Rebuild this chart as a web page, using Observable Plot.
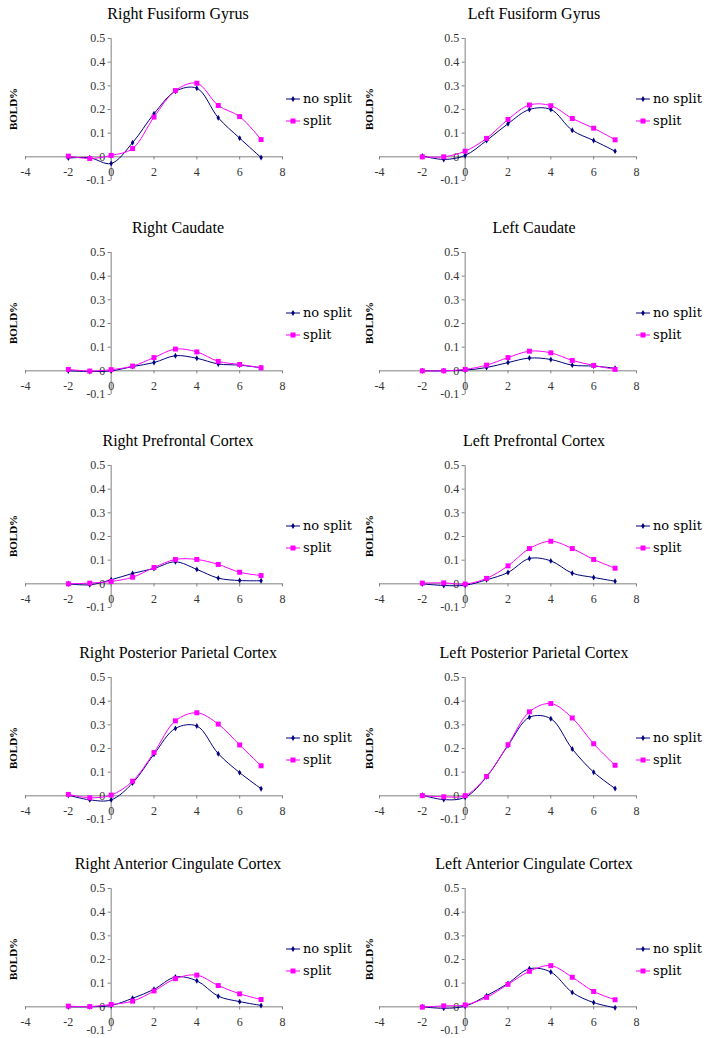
<!DOCTYPE html>
<html>
<head>
<meta charset="utf-8">
<script src="https://cdn.jsdelivr.net/npm/d3@7"></script>
<script src="https://cdn.jsdelivr.net/npm/@observablehq/plot@0.6"></script>
<style>
  body { margin: 0; background: #fff; }
  #root { position: relative; width: 713px; height: 1038px; overflow: hidden; background: #fff; }
  .panel { position: absolute; width: 356px; height: 213px; }
  .panel svg.plot { position: absolute; left: 0; top: 26px; overflow: visible; }
  .title { position: absolute; left: 0; top: 4px; width: 356px; text-align: center;
           font: 16px "Liberation Serif", serif; line-height: 20px; color: #000; white-space: nowrap; }
  .ylab { position: absolute; left: 13px; top: 109px; transform: translate(-50%, -50%) rotate(-90deg);
          font: bold 11px "Liberation Serif", serif; color: #000; white-space: nowrap; }
  .leg { position: absolute; height: 18px; line-height: 18px; white-space: nowrap;
         font: 13px "DejaVu Serif", serif; color: #000; }
  .leg svg { vertical-align: middle; margin-right: 2px; position: relative; top: -1px; }
</style>
</head>
<body>
<div id="root"></div>
<script>
// ---- data ----
const times = [-2, -1, 0, 1, 2, 3, 4, 5, 6, 7];
const xTicks = [-4, -2, 0, 2, 4, 6, 8];
const yTicks = [-0.1, 0, 0.1, 0.2, 0.3, 0.4, 0.5];
const seriesNames = ["no split", "split"];
const regionTitles = [
  "Right Fusiform Gyrus", "Left Fusiform Gyrus",
  "Right Caudate", "Left Caudate",
  "Right Prefrontal Cortex", "Left Prefrontal Cortex",
  "Right Posterior Parietal Cortex", "Left Posterior Parietal Cortex",
  "Right Anterior Cingulate Cortex", "Left Anterior Cingulate Cortex"
];

const rightFusiformNoSplit = [-0.005, -0.004, -0.028, 0.06, 0.182, 0.277, 0.29, 0.165, 0.079, -0.003];
const rightFusiformSplit   = [0.003, -0.007, 0.006, 0.035, 0.168, 0.28, 0.311, 0.217, 0.17, 0.073];
const leftFusiformNoSplit  = [0.004, -0.011, 0.006, 0.069, 0.14, 0.2, 0.2, 0.112, 0.069, 0.024];
const leftFusiformSplit    = [0.0, 0.0, 0.024, 0.078, 0.158, 0.219, 0.216, 0.162, 0.121, 0.072];
const rightCaudateNoSplit  = [0.0, -0.003, 0.0, 0.018, 0.035, 0.064, 0.053, 0.029, 0.024, 0.013];
const rightCaudateSplit    = [0.006, -0.001, 0.005, 0.02, 0.056, 0.092, 0.08, 0.04, 0.027, 0.013];
const leftCaudateNoSplit   = [0.0, 0.0, 0.003, 0.014, 0.035, 0.054, 0.048, 0.024, 0.02, 0.011];
const leftCaudateSplit     = [0.0, 0.0, 0.006, 0.024, 0.056, 0.083, 0.076, 0.044, 0.023, 0.006];
const rightPrefrontalNoSplit = [0.0, -0.004, 0.017, 0.044, 0.065, 0.093, 0.061, 0.024, 0.014, 0.013];
const rightPrefrontalSplit   = [0.0, 0.003, 0.01, 0.028, 0.069, 0.103, 0.103, 0.082, 0.049, 0.035];
const leftPrefrontalNoSplit  = [0.0, -0.007, -0.006, 0.017, 0.048, 0.107, 0.097, 0.045, 0.027, 0.011];
const leftPrefrontalSplit    = [0.003, 0.004, -0.001, 0.023, 0.076, 0.149, 0.18, 0.149, 0.103, 0.066];
const rightParietalNoSplit   = [0.003, -0.017, -0.017, 0.054, 0.176, 0.285, 0.295, 0.178, 0.098, 0.03];
const rightParietalSplit     = [0.006, -0.008, 0.003, 0.062, 0.183, 0.317, 0.351, 0.303, 0.215, 0.127];
const leftParietalNoSplit    = [0.003, -0.016, -0.006, 0.08, 0.213, 0.332, 0.326, 0.198, 0.1, 0.031];
const leftParietalSplit      = [0.001, -0.004, 0.001, 0.082, 0.216, 0.355, 0.39, 0.329, 0.22, 0.129];
const rightCingulateNoSplit  = [0.0, 0.0, 0.006, 0.036, 0.074, 0.126, 0.11, 0.045, 0.022, 0.006];
const rightCingulateSplit    = [0.003, 0.001, 0.01, 0.024, 0.067, 0.119, 0.134, 0.09, 0.055, 0.031];
const leftCingulateNoSplit   = [0.0, -0.006, 0.003, 0.047, 0.099, 0.161, 0.147, 0.061, 0.018, -0.004];
const leftCingulateSplit     = [-0.001, 0.004, 0.008, 0.04, 0.095, 0.15, 0.174, 0.125, 0.065, 0.03];

const noSplitSeries = [rightFusiformNoSplit, leftFusiformNoSplit, rightCaudateNoSplit, leftCaudateNoSplit,
  rightPrefrontalNoSplit, leftPrefrontalNoSplit, rightParietalNoSplit, leftParietalNoSplit,
  rightCingulateNoSplit, leftCingulateNoSplit];
const splitSeries = [rightFusiformSplit, leftFusiformSplit, rightCaudateSplit, leftCaudateSplit,
  rightPrefrontalSplit, leftPrefrontalSplit, rightParietalSplit, leftParietalSplit,
  rightCingulateSplit, leftCingulateSplit];

// ---- layout / style ----
const rowTops = [0, 214, 427, 639, 850];
const colLefts = [0, 356];
const colMarginLeft = [25, 23];
const colMarginRight = [74, 76];
const legendLeft = [286, 280];
const navy = "#000080";
const magenta = "#ff00ff";
const axisColor = "#808080";
const serif = "'Liberation Serif', serif";

const root = document.getElementById("root");

function legendItem(name, color, isSquare) {
  const marker = isSquare
    ? `<rect x="4.5" y="2.5" width="5" height="5" fill="${color}"/>`
    : `<polygon points="7,2 8.8,5 7,8 5.2,5" fill="${color}"/>`;
  return `<svg width="15" height="10"><line x1="0" y1="5" x2="14" y2="5" stroke="${color}" stroke-width="1"/>${marker}</svg>${name}`;
}

regionTitles.forEach((title, i) => {
  const row = Math.floor(i / 2), col = i % 2;
  const panel = document.createElement("div");
  panel.className = "panel";
  panel.style.left = colLefts[col] + "px";
  panel.style.top = rowTops[row] + "px";

  const t = document.createElement("div");
  t.className = "title";
  t.textContent = title;
  panel.appendChild(t);

  const yl = document.createElement("div");
  yl.className = "ylab";
  yl.textContent = "BOLD%";
  panel.appendChild(yl);

  const rows = times.map((x, k) => ({x, noSplit: noSplitSeries[i][k], split: splitSeries[i][k]}));

  const chart = Plot.plot({
    width: 356,
    height: 170,
    marginTop: 12,
    marginBottom: 16,
    marginLeft: colMarginLeft[col],
    marginRight: colMarginRight[col],
    x: {domain: [-4, 8], axis: null},
    y: {domain: [-0.1, 0.5], axis: null},
    style: {background: "transparent", overflow: "visible"},
    marks: [
      Plot.ruleY([0], {x1: -4, x2: 8, stroke: axisColor, strokeWidth: 1}),
      Plot.ruleX([0], {y1: -0.1, y2: 0.5, stroke: axisColor, strokeWidth: 1}),
      Plot.ruleX(xTicks, {x: d => d, y1: 0, y2: -0.013, stroke: axisColor}),
      Plot.ruleY(yTicks, {y: d => d, x1: -0.14, x2: 0, stroke: axisColor}),
      Plot.text(xTicks, {x: d => d, y: 0, dy: 15, text: d => String(d), fontSize: 12,
        fontFamily: serif, fill: "#333"}),
      Plot.text(yTicks, {x: 0, y: d => d, dx: -6, textAnchor: "end", text: d => String(d),
        fontSize: 12, fontFamily: serif, fill: "#333"}),
      Plot.line(rows, {x: "x", y: "noSplit", stroke: navy, strokeWidth: 1, curve: "catmull-rom"}),
      Plot.line(rows, {x: "x", y: "split", stroke: magenta, strokeWidth: 1, curve: "catmull-rom"}),
      Plot.dot(rows, {x: "x", y: "noSplit", symbol: "diamond", r: 1.8, fill: navy, stroke: "none"}),
      Plot.dot(rows, {x: "x", y: "split", symbol: "square", r: 2.8, fill: magenta, stroke: "none"})
    ]
  });
  chart.classList.add("plot");
  panel.appendChild(chart);

  const l1 = document.createElement("div");
  l1.className = "leg";
  l1.style.left = legendLeft[col] + "px";
  l1.style.top = (100 - 9) + "px";
  l1.innerHTML = legendItem(seriesNames[0], navy, false);
  panel.appendChild(l1);

  const l2 = document.createElement("div");
  l2.className = "leg";
  l2.style.left = legendLeft[col] + "px";
  l2.style.top = (122 - 9) + "px";
  l2.innerHTML = legendItem(seriesNames[1], magenta, true);
  panel.appendChild(l2);

  root.appendChild(panel);
});
</script>
</body>
</html>
